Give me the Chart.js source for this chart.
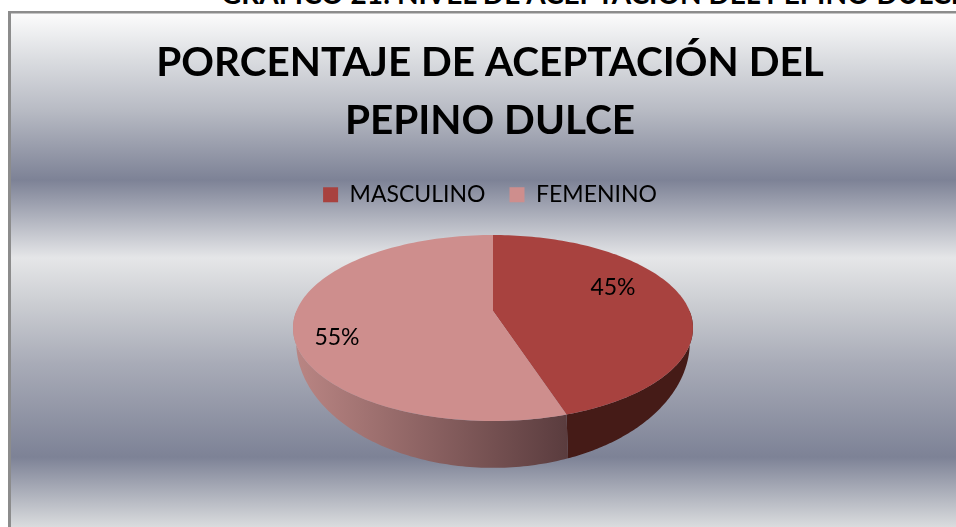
<!DOCTYPE html>
<html>
<head>
<meta charset="utf-8">
<title>Porcentaje de aceptación del pepino dulce</title>
<script src="https://cdn.jsdelivr.net/npm/chart.js@4"></script>
<style>
  html, body { margin: 0; width: 956px; height: 527px; overflow: hidden; background: #fff; }
  #heading {
    position: absolute; left: 221px; top: -22px; white-space: nowrap;
    font: bold 28px Lato, sans-serif; color: #000; line-height: 30px;
  }
  #wrap { position: absolute; left: 0; top: 0; width: 980px; height: 527px; }
</style>
</head>
<body>
<div id="heading">GRÁFICO 21: NIVEL DE ACEPTACIÓN DEL PEPINO DULCE</div>
<div id="wrap"><canvas id="chart"></canvas></div>
<script>
const categories = ['MASCULINO', 'FEMENINO'];
const percentages = [45, 55];
const sliceColors = ['#a8423f', '#ce8e8d'];

// Office style banded silver background
const backgroundStops = [
  [13, '#fcfcfc'], [60, '#dadce0'], [110, '#b8bbc4'], [180, '#7d8296'],
  [258, '#e5e6e8'], [297, '#cfd1d5'], [364, '#a8abb7'], [457, '#7d8296'], [527, '#dadcde']
];

// Perspective of the pie: top face and the lower rim of the wall
const topFace = { cx: 493, cy: 311, rx: 196.6, ry: 89.9, k: -0.183 };
const lowerRim = { cx: 493, cy: 314, rx: 192, ry: 120, k: -0.22 };

function project(face, angle) {
  // chart.js angles start at -PI/2 for the 12 o'clock position
  const u = Math.cos(angle);
  const v = Math.sin(angle);
  const w = 1 + face.k * v;
  return { x: face.cx + face.rx * u / w, y: face.cy + face.ry * v / w };
}

function tracePoints(ctx, face, from, to) {
  const steps = 120;
  for (let i = 0; i <= steps; i++) {
    const p = project(face, from + (to - from) * i / steps);
    ctx.lineTo(p.x, p.y);
  }
}

const silverBackground = {
  id: 'silverBackground',
  beforeDraw(chart) {
    const { ctx, width, height } = chart;
    const grad = ctx.createLinearGradient(0, 0, 0, height);
    backgroundStops.forEach(([y, color]) => grad.addColorStop(y / height, color));
    ctx.save();
    ctx.fillStyle = grad;
    ctx.fillRect(11, 13, width - 11, height - 13);
    ctx.fillStyle = '#8c8c8c';
    ctx.fillRect(8, 11, width - 8, 2.5);
    ctx.fillRect(8, 11, 3, height - 11);
    ctx.restore();
  }
};

const tiltedPie = {
  id: 'tiltedPie',
  beforeDatasetDraw(chart, args) {
    const { ctx } = chart;
    const arcs = chart.getDatasetMeta(args.index).data;
    const leftWall = ctx.createLinearGradient(297, 0, 568, 0);
    leftWall.addColorStop(0, '#b98583');
    leftWall.addColorStop(1, '#5a3c3e');
    const wallColors = ['#451b17', leftWall];
    ctx.save();
    arcs.forEach((arc, i) => {
      // only the front half of the rim is visible
      const from = Math.max(arc.startAngle, 0);
      const to = Math.min(arc.endAngle, Math.PI);
      ctx.beginPath();
      tracePoints(ctx, topFace, from, to);
      tracePoints(ctx, lowerRim, to, from);
      ctx.closePath();
      ctx.fillStyle = wallColors[i];
      ctx.fill();
    });
    arcs.forEach((arc, i) => {
      ctx.beginPath();
      ctx.moveTo(topFace.cx, topFace.cy);
      tracePoints(ctx, topFace, arc.startAngle, arc.endAngle);
      ctx.closePath();
      ctx.fillStyle = sliceColors[i];
      ctx.fill();
    });
    ctx.restore();
    return false; // flat arcs replaced by the tilted ones above
  },
  afterDatasetsDraw(chart, args, opts) {
    const { ctx } = chart;
    ctx.save();
    ctx.font = '23px Lato, sans-serif';
    ctx.fillStyle = '#000';
    ctx.textAlign = 'center';
    ctx.textBaseline = 'middle';
    percentages.forEach((value, i) => {
      ctx.fillText(value + '%', opts.labelAt[i][0], opts.labelAt[i][1]);
    });
    ctx.restore();
  }
};

new Chart(document.getElementById('chart'), {
  type: 'pie',
  data: {
    labels: categories,
    datasets: [{ data: percentages, backgroundColor: sliceColors, borderWidth: 0 }]
  },
  options: {
    responsive: true,
    maintainAspectRatio: false,
    animation: false,
    layout: { padding: { top: 34 } },
    plugins: {
      title: {
        display: true,
        text: ['PORCENTAJE DE ACEPTACIÓN DEL', 'PEPINO DULCE'],
        color: '#000',
        font: { family: 'Lato', size: 40.5, weight: 'bold', lineHeight: 1.43 },
        padding: { top: 0, bottom: 9.5 }
      },
      legend: {
        position: 'top',
        labels: {
          color: '#000',
          font: { family: 'Lato', size: 23 },
          boxWidth: 15,
          boxHeight: 15,
          padding: 24
        }
      },
      tooltip: { enabled: false },
      tiltedPie: { labelAt: [[613, 288], [337, 338]] }
    }
  },
  plugins: [silverBackground, tiltedPie]
});
</script>
</body>
</html>
